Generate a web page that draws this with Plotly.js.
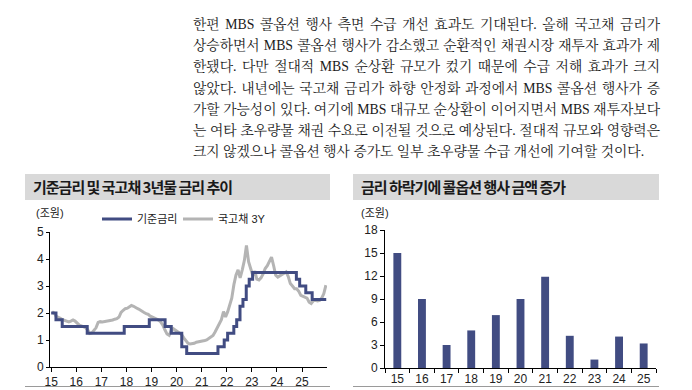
<!DOCTYPE html>
<html>
<head>
<meta charset="utf-8">
<script src="https://cdn.plot.ly/plotly-3.0.1.min.js"></script>
<style>
  html, body { margin:0; padding:0; background:#fff; }
  body { width:692px; height:390px; position:relative; overflow:hidden; }
  .para { position:absolute; left:193px; top:14px; width:467px;
          font-family:"Liberation Serif","Noto Serif CJK KR","Noto Sans CJK KR",serif;
          font-size:13.8px; line-height:21.2px; color:#1a1a1a; }
  .para div { text-align:justify; text-align-last:justify; white-space:nowrap; }
  .para div.last { text-align-last:left; }
  .tbar { position:absolute; top:174px; height:26px; background:#d9d9d9;
          font-family:"Noto Sans CJK KR",sans-serif; font-weight:bold; font-size:15px;
          letter-spacing:-1px; line-height:26px; color:#1a1a1a; padding-left:8px; box-sizing:border-box; }
  .bline { position:absolute; top:386px; height:0; border-top:1.5px solid #9a9a9a; }
  .chart { position:absolute; top:200px; width:346px; height:190px; }
</style>
</head>
<body>
<div class="para">
  <div>한편 MBS 콜옵션 행사 측면 수급 개선 효과도 기대된다. 올해 국고채 금리가</div>
  <div>상승하면서 MBS 콜옵션 행사가 감소했고 순환적인 채권시장 재투자 효과가 제</div>
  <div>한됐다. 다만 절대적 MBS 순상환 규모가 컸기 때문에 수급 저해 효과가 크지</div>
  <div>않았다. 내년에는 국고채 금리가 하향 안정화 과정에서 MBS 콜옵션 행사가 증</div>
  <div>가할 가능성이 있다. 여기에 MBS 대규모 순상환이 이어지면서 MBS 재투자보다</div>
  <div>는 여타 초우량물 채권 수요로 이전될 것으로 예상된다. 절대적 규모와 영향력은</div>
  <div class="last">크지 않겠으나 콜옵션 행사 증가도 일부 초우량물 수급 개선에 기여할 것이다.</div>
</div>

<div class="tbar" style="left:25px;width:305px;">기준금리 및 국고채 3년물 금리 추이</div>
<div class="tbar" style="left:353px;width:306px;">금리 하락기에 콜옵션 행사 금액 증가</div>

<div id="chartL" class="chart" style="left:0px;"></div>
<div id="chartR" class="chart" style="left:346px;"></div>

<div class="bline" style="left:25px;width:305px;"></div>
<div class="bline" style="left:353px;width:306px;"></div>

<script>
// ---------- Data: left chart ----------
const baseRateDates = ['2015-01-01','2015-03-12','2015-06-11','2016-06-09','2017-11-30','2018-11-30',
  '2019-07-18','2019-10-16','2020-03-17','2020-05-28','2021-08-26','2021-11-25','2022-01-14',
  '2022-04-14','2022-05-26','2022-07-13','2022-08-25','2022-10-12','2022-11-24','2023-01-13',
  '2024-10-11','2024-11-28','2025-02-25','2025-05-29','2025-12-20'];
const baseRateValues = [2.00,1.75,1.50,1.25,1.50,1.75,1.50,1.25,0.75,0.50,0.75,1.00,1.25,
  1.50,1.75,2.25,2.50,3.00,3.25,3.50,3.25,3.00,2.75,2.50,2.50];

const ktbYears = [2015,2016,2017,2018,2019,2020,2021,2022,2023,2024,2025];
const ktb2015 = [2.05,2.00,1.88,1.85,1.80,1.75,1.72,1.68,1.67,1.70,1.74,1.70];
const ktb2016 = [1.62,1.55,1.52,1.48,1.46,1.38,1.24,1.26,1.36,1.45,1.65,1.68];
const ktb2017 = [1.67,1.68,1.70,1.72,1.72,1.74,1.77,1.79,1.85,2.02,2.10,2.16];
const ktb2018 = [2.18,2.24,2.28,2.25,2.22,2.16,2.12,2.06,2.02,1.98,1.95,1.88];
const ktb2019 = [1.85,1.82,1.79,1.74,1.67,1.55,1.38,1.22,1.17,1.35,1.42,1.36];
const ktb2020 = [1.30,1.26,1.20,1.08,0.99,0.88,0.85,0.86,0.88,0.92,0.93,0.95];
const ktb2021 = [0.96,0.98,1.00,1.05,1.10,1.17,1.30,1.45,1.60,1.75,2.05,1.85];
const ktb2022 = [2.05,2.30,2.55,3.05,3.40,3.60,3.30,3.60,3.95,4.50,3.90,3.65];
const ktb2023 = [3.40,3.55,3.25,3.22,3.30,3.45,3.65,3.75,3.90,4.07,3.75,3.40];
const ktb2024 = [3.33,3.38,3.40,3.46,3.52,3.35,3.09,3.00,2.90,2.90,2.80,2.65];
const ktb2025 = [2.62,2.59,2.55,2.40,2.35,2.45,2.47,2.45,2.47,2.55,2.72,3.03];
const ktbByYear = [ktb2015,ktb2016,ktb2017,ktb2018,ktb2019,ktb2020,ktb2021,ktb2022,ktb2023,ktb2024,ktb2025];

const yearTickDates = ['2015-01-01','2016-01-01','2017-01-01','2018-01-01','2019-01-01','2020-01-01',
  '2021-01-01','2022-01-01','2023-01-01','2024-01-01','2025-01-01'];
const yearTickLabels = ['15','16','17','18','19','20','21','22','23','24','25'];

// ---------- Data: right chart ----------
const barCategories = ['15','16','17','18','19','20','21','22','23','24','25'];
const callExercise = [15.0,9.0,3.0,4.9,6.9,9.0,11.9,4.2,1.1,4.1,3.2];

// build monthly series for the 3Y yield
const ktbDates = [], ktbValues = [];
ktbYears.forEach((y, i) => {
  ktbByYear[i].forEach((v, m) => {
    ktbDates.push(y + '-' + String(m + 1).padStart(2, '0') + '-15');
    ktbValues.push(v);
  });
});

const NAVY = '#414c82';
const GRAY = '#b4b4b4';
const FONT = 'Liberation Sans, Noto Sans CJK KR, sans-serif';

const tracesL = [
  { x: ktbDates, y: ktbValues, type: 'scatter', mode: 'lines', name: '국고채 3Y',
    legend: 'legend2', line: { color: GRAY, width: 3 } },
  { x: baseRateDates, y: baseRateValues, type: 'scatter', mode: 'lines', name: '기준금리',
    legend: 'legend', line: { color: NAVY, width: 3, shape: 'hv' } }
];

const legendCommon = { orientation: 'h', xref: 'container', yref: 'container',
  xanchor: 'left', yanchor: 'middle', y: 0.9,
  font: { size: 11, family: FONT, color: '#222' }, bgcolor: 'rgba(0,0,0,0)', borderwidth: 0 };

const layoutL = {
  width: 346, height: 190,
  margin: { l: 50, r: 19, t: 32, b: 23, pad: 0, autoexpand: false },
  paper_bgcolor: 'rgba(0,0,0,0)', plot_bgcolor: 'rgba(0,0,0,0)',
  font: { family: FONT, color: '#222', size: 12 },
  showlegend: true,
  legend: Object.assign({}, legendCommon, { x: 97 / 346 }),
  legend2: Object.assign({}, legendCommon, { x: 178 / 346 }),
  xaxis: { type: 'date', range: ['2014-12-15', '2025-12-31'], tickmode: 'array',
    tickvals: yearTickDates, ticktext: yearTickLabels, ticks: 'outside', ticklen: 4,
    tickcolor: '#000', showline: true, linecolor: '#000', linewidth: 1,
    showgrid: false, zeroline: false, tickfont: { size: 12 } },
  yaxis: { range: [0, 5], dtick: 1, ticks: 'outside', ticklen: 3, tickcolor: '#000',
    showline: true, linecolor: '#000', linewidth: 1, showgrid: false, zeroline: false,
    tickfont: { size: 12 } },
  annotations: [{ text: '(조원)', xref: 'paper', yref: 'paper', x: 0, y: 1.139,
    xanchor: 'center', yanchor: 'middle', showarrow: false, font: { size: 11 } }]
};

const tracesR = [
  { x: barCategories, y: callExercise, type: 'bar', width: 0.32,
    marker: { color: NAVY }, showlegend: false }
];

const layoutR = {
  width: 346, height: 190,
  margin: { l: 39, r: 36, t: 30, b: 22, pad: 0, autoexpand: false },
  paper_bgcolor: 'rgba(0,0,0,0)', plot_bgcolor: 'rgba(0,0,0,0)',
  font: { family: FONT, color: '#222', size: 12 },
  showlegend: false,
  xaxis: { type: 'category', range: [-0.5, 10.5], ticks: 'outside', tickson: 'boundaries',
    ticklen: 4, tickcolor: '#000', showline: true, linecolor: '#000', linewidth: 1,
    showgrid: false, zeroline: false, tickfont: { size: 12 } },
  yaxis: { range: [0, 18], dtick: 3, ticks: 'outside', ticklen: 4, tickcolor: '#000',
    showline: true, linecolor: '#000', linewidth: 1, showgrid: false, zeroline: false,
    tickfont: { size: 12 } },
  annotations: [{ text: '(조원)', xref: 'paper', yref: 'paper', x: -0.037, y: 1.126,
    xanchor: 'center', yanchor: 'middle', showarrow: false, font: { size: 11 } }]
};

const cfg = { staticPlot: true, displayModeBar: false };
Plotly.newPlot('chartL', tracesL, layoutL, cfg);
Plotly.newPlot('chartR', tracesR, layoutR, cfg);
</script>
</body>
</html>
